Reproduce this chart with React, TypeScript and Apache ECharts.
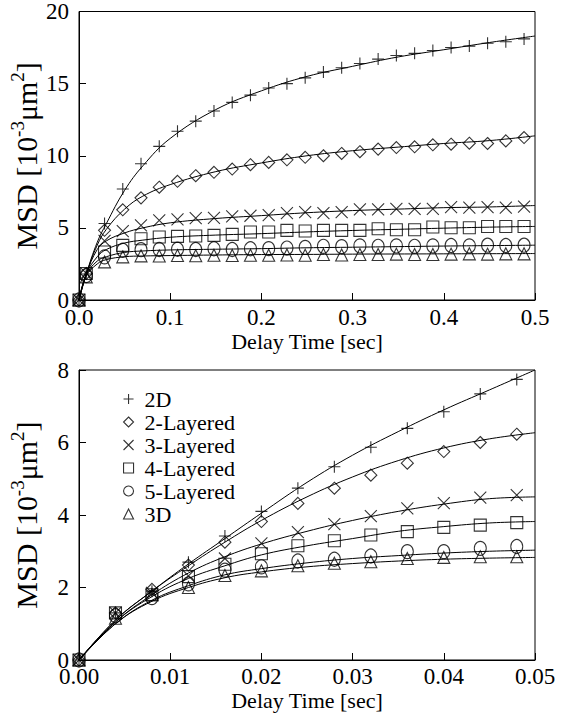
import React, { useEffect, useRef } from "react";
import * as echarts from "echarts";

const seriesNames = ["2D", "2-Layered", "3-Layered", "4-Layered", "5-Layered", "3D"];

// Top panel: measured points
const topTimes = [0, 0.008, 0.028, 0.048, 0.068, 0.088, 0.108, 0.128, 0.148, 0.168, 0.188, 0.208, 0.228, 0.248, 0.268, 0.288, 0.308, 0.328, 0.348, 0.368, 0.388, 0.408, 0.428, 0.448, 0.468, 0.488];
const top2D = [0, 1.8, 5.3, 7.7, 9.45, 10.65, 11.7, 12.4, 13.1, 13.7, 14.2, 14.7, 15.0, 15.4, 15.8, 16.1, 16.4, 16.7, 16.95, 17.1, 17.3, 17.5, 17.6, 17.8, 17.9, 18.1];
const top2L = [0, 1.84, 4.83, 6.25, 7.08, 7.82, 8.23, 8.62, 8.85, 9.08, 9.38, 9.54, 9.72, 9.89, 10.0, 10.16, 10.28, 10.46, 10.57, 10.62, 10.76, 10.8, 10.87, 10.85, 11.03, 11.26];
const top3L = [0, 1.84, 4.1, 4.78, 5.17, 5.52, 5.59, 5.68, 5.7, 5.79, 5.84, 5.89, 6.02, 6.09, 6.02, 6.09, 6.28, 6.28, 6.32, 6.32, 6.32, 6.44, 6.4, 6.44, 6.4, 6.48];
const top4L = [0, 1.84, 3.33, 3.79, 4.25, 4.37, 4.41, 4.44, 4.48, 4.55, 4.71, 4.71, 4.83, 4.78, 4.83, 4.83, 4.83, 4.94, 4.87, 4.87, 5.06, 5.01, 5.01, 5.1, 5.1, 5.1];
const top5L = [0, 1.7, 2.99, 3.45, 3.49, 3.5, 3.52, 3.5, 3.55, 3.5, 3.55, 3.56, 3.6, 3.65, 3.72, 3.7, 3.75, 3.72, 3.75, 3.72, 3.75, 3.78, 3.75, 3.8, 3.78, 3.8];
const top3D = [0, 1.6, 2.64, 2.99, 3.06, 3.05, 3.08, 3.07, 3.1, 3.08, 3.1, 3.1, 3.12, 3.1, 3.15, 3.12, 3.15, 3.15, 3.18, 3.15, 3.15, 3.18, 3.2, 3.18, 3.2, 3.2];

// Top panel: fitted curves
const topFitTimes = [0, 0.008, 0.02, 0.03, 0.05, 0.07, 0.1, 0.15, 0.2, 0.25, 0.3, 0.35, 0.4, 0.45, 0.5];
const topFit2D = [0, 1.8, 4.0, 5.3, 7.6, 9.3, 11.2, 13.2, 14.5, 15.5, 16.2, 16.85, 17.35, 17.85, 18.3];
const topFit2L = [0, 1.8, 3.8, 4.9, 6.3, 7.2, 8.0, 8.9, 9.5, 10.0, 10.35, 10.6, 10.85, 11.05, 11.38];
const topFit3L = [0, 1.8, 3.5, 4.1, 4.65, 5.0, 5.35, 5.65, 5.85, 6.05, 6.2, 6.3, 6.4, 6.45, 6.55];
const topFit4L = [0, 1.8, 3.0, 3.5, 3.95, 4.15, 4.35, 4.5, 4.6, 4.72, 4.82, 4.9, 4.98, 5.05, 5.1];
const topFit5L = [0, 1.75, 2.7, 3.0, 3.3, 3.4, 3.47, 3.52, 3.56, 3.62, 3.66, 3.7, 3.74, 3.77, 3.8];
const topFit3D = [0, 1.65, 2.5, 2.8, 3.0, 3.05, 3.08, 3.12, 3.15, 3.16, 3.18, 3.19, 3.2, 3.21, 3.22];

// Bottom panel: measured points
const botTimes = [0, 0.004, 0.008, 0.012, 0.016, 0.02, 0.024, 0.028, 0.032, 0.036, 0.04, 0.044, 0.048];
const bot2D = [0, 1.3, 1.9, 2.7, 3.42, 4.1, 4.74, 5.33, 5.87, 6.39, 6.85, 7.34, 7.74];
const bot2L = [0, 1.3, 1.95, 2.62, 3.25, 3.82, 4.32, 4.74, 5.1, 5.43, 5.75, 6.0, 6.23];
const bot3L = [0, 1.3, 1.85, 2.32, 2.8, 3.22, 3.53, 3.75, 3.97, 4.18, 4.33, 4.48, 4.55];
const bot4L = [0, 1.3, 1.8, 2.3, 2.64, 2.93, 3.15, 3.29, 3.45, 3.54, 3.66, 3.72, 3.79];
const bot5L = [0, 1.22, 1.72, 2.1, 2.48, 2.57, 2.73, 2.78, 2.87, 2.99, 2.99, 3.08, 3.13];
const bot3D = [0, 1.15, 1.8, 2.0, 2.33, 2.46, 2.6, 2.67, 2.71, 2.8, 2.83, 2.85, 2.85];

// Bottom panel: fitted curves
const botFitTimes = [0, 0.004, 0.008, 0.012, 0.016, 0.02, 0.025, 0.03, 0.035, 0.04, 0.045, 0.05];
const botFit2D = [0, 1.1, 1.9, 2.65, 3.35, 4.05, 4.9, 5.65, 6.3, 6.9, 7.45, 8.0];
const botFit2L = [0, 1.1, 1.9, 2.6, 3.25, 3.85, 4.5, 5.05, 5.5, 5.85, 6.1, 6.27];
const botFit3L = [0, 1.05, 1.8, 2.4, 2.85, 3.2, 3.55, 3.85, 4.1, 4.3, 4.45, 4.5];
const botFit4L = [0, 1.05, 1.75, 2.25, 2.6, 2.9, 3.15, 3.35, 3.55, 3.68, 3.78, 3.82];
const botFit5L = [0, 1.0, 1.65, 2.05, 2.35, 2.52, 2.68, 2.8, 2.88, 2.95, 3.0, 3.03];
const botFit3D = [0, 1.0, 1.62, 2.0, 2.27, 2.43, 2.57, 2.66, 2.73, 2.78, 2.81, 2.83];

const topXTicks = ["0.0", "0.1", "0.2", "0.3", "0.4", "0.5"];
const botXTicks = ["0.00", "0.01", "0.02", "0.03", "0.04", "0.05"];

const symbols = [
  "path://M6,0L6,12M0,6L12,6",
  "diamond",
  "path://M0,0L12,12M12,0L0,12",
  "rect",
  "circle",
  "triangle",
];
const symbolSizes: any[] = [12, 12, 12, 12, [12, 14], 12];

const SERIF = "Liberation Serif";

function zip(xs: number[], ys: number[]) {
  return xs.map((x, i) => [x, ys[i]]);
}

function buildOption() {
  const topPts = [top2D, top2L, top3L, top4L, top5L, top3D];
  const topFits = [topFit2D, topFit2L, topFit3L, topFit4L, topFit5L, topFit3D];
  const botPts = [bot2D, bot2L, bot3L, bot4L, bot5L, bot3D];
  const botFits = [botFit2D, botFit2L, botFit3L, botFit4L, botFit5L, botFit3D];

  const series: any[] = [];
  const fitLine = (data: number[][], idx: number) => ({
    type: "line",
    xAxisIndex: idx,
    yAxisIndex: idx,
    data,
    smooth: 0.4,
    showSymbol: false,
    symbol: "none",
    silent: true,
    lineStyle: { color: "#000", width: 1 },
    z: 2,
  });
  const scatter = (name: string, data: number[][], idx: number, k: number) => ({
    type: "scatter",
    name,
    xAxisIndex: idx,
    yAxisIndex: idx,
    data,
    symbol: symbols[k],
    symbolSize: symbolSizes[k],
    itemStyle: { color: "rgba(255,255,255,0)", borderColor: "#000", borderWidth: 1.1 },
    z: 3,
  });
  for (let k = 0; k < 6; k++) {
    series.push(fitLine(zip(topFitTimes, topFits[k]), 0));
    series.push(fitLine(zip(botFitTimes, botFits[k]), 1));
  }
  for (let k = 0; k < 6; k++) {
    series.push(scatter(seriesNames[k], zip(topTimes, topPts[k]), 0, k));
    series.push(scatter(seriesNames[k], zip(botTimes, botPts[k]), 1, k));
  }

  const axisCommon = {
    axisLine: { show: true, onZero: false, lineStyle: { color: "#000", width: 1 } },
    axisTick: { show: true, inside: true, length: 7, lineStyle: { color: "#000", width: 1 } },
    splitLine: { show: false },
  };
  const nameStyle = {
    fontFamily: SERIF,
    fontSize: 22,
    color: "#000",
  };
  const yName = "MSD [10{sup|-3}μm{sup|2}]";
  const yNameStyle = {
    fontFamily: SERIF,
    fontSize: 30,
    color: "#000",
    lineHeight: 36,
    rich: {
      sup: { fontFamily: SERIF, fontSize: 19, color: "#000", verticalAlign: "top", lineHeight: 19 },
    },
  };
  const tickFont = { fontFamily: SERIF, fontSize: 23, color: "#000" };

  const legendData = seriesNames.map((n, k) => ({
    name: n,
    icon: symbols[k],
    itemStyle: { color: "rgba(255,255,255,0)", borderColor: "#000", borderWidth: 1.1 },
  }));

  return {
    animation: false,
    backgroundColor: "#fff",
    textStyle: { fontFamily: SERIF },
    grid: [
      { left: 78, top: 10, width: 457, height: 290, show: true, borderColor: "#000", borderWidth: 1 },
      { left: 78, top: 370, width: 457, height: 290, show: true, borderColor: "#000", borderWidth: 1 },
    ],
    legend: {
      data: legendData,
      orient: "vertical",
      left: 118,
      top: 383,
      itemWidth: 10,
      itemHeight: 10,
      itemGap: 1,
      selectedMode: false,
      textStyle: { fontFamily: SERIF, fontSize: 22, color: "#000", lineHeight: 21, padding: [0, 0, 0, 6] },
    },
    xAxis: [
      {
        ...axisCommon,
        type: "value",
        gridIndex: 0,
        min: 0,
        max: 0.5,
        interval: 0.1,
        name: "Delay Time [sec]",
        nameLocation: "middle",
        nameGap: 30,
        nameMoveOverlap: false,
        nameTextStyle: nameStyle,
        axisLabel: {
          ...tickFont,
          margin: 6,
          formatter: (v: number) => topXTicks[Math.round(v / 0.1)],
        },
      },
      {
        ...axisCommon,
        type: "value",
        gridIndex: 1,
        min: 0,
        max: 0.05,
        interval: 0.01,
        name: "Delay Time [sec]",
        nameLocation: "middle",
        nameGap: 29,
        nameMoveOverlap: false,
        nameTextStyle: nameStyle,
        axisLabel: {
          ...tickFont,
          margin: 5,
          formatter: (v: number) => botXTicks[Math.round(v / 0.01)],
        },
      },
    ],
    yAxis: [
      {
        ...axisCommon,
        type: "value",
        gridIndex: 0,
        min: 0,
        max: 20,
        interval: 5,
        name: yName,
        nameLocation: "middle",
        nameGap: 35,
        nameMoveOverlap: false,
        nameTextStyle: yNameStyle,
        axisLabel: { ...tickFont, margin: 10 },
      },
      {
        ...axisCommon,
        type: "value",
        gridIndex: 1,
        min: 0,
        max: 8,
        interval: 2,
        name: yName,
        nameLocation: "middle",
        nameGap: 35,
        nameMoveOverlap: false,
        nameTextStyle: yNameStyle,
        axisLabel: { ...tickFont, margin: 10 },
      },
    ],
    series,
  };
}

export default function App() {
  const ref = useRef<HTMLDivElement>(null);
  useEffect(() => {
    if (!ref.current) return;
    const chart = echarts.init(ref.current, null, { renderer: "svg" });
    chart.setOption(buildOption() as any);
    return () => chart.dispose();
  }, []);
  return (
    <div
      ref={ref}
      style={{ position: "fixed", left: 0, top: 0, width: 564, height: 715, background: "#fff" }}
    />
  );
}
